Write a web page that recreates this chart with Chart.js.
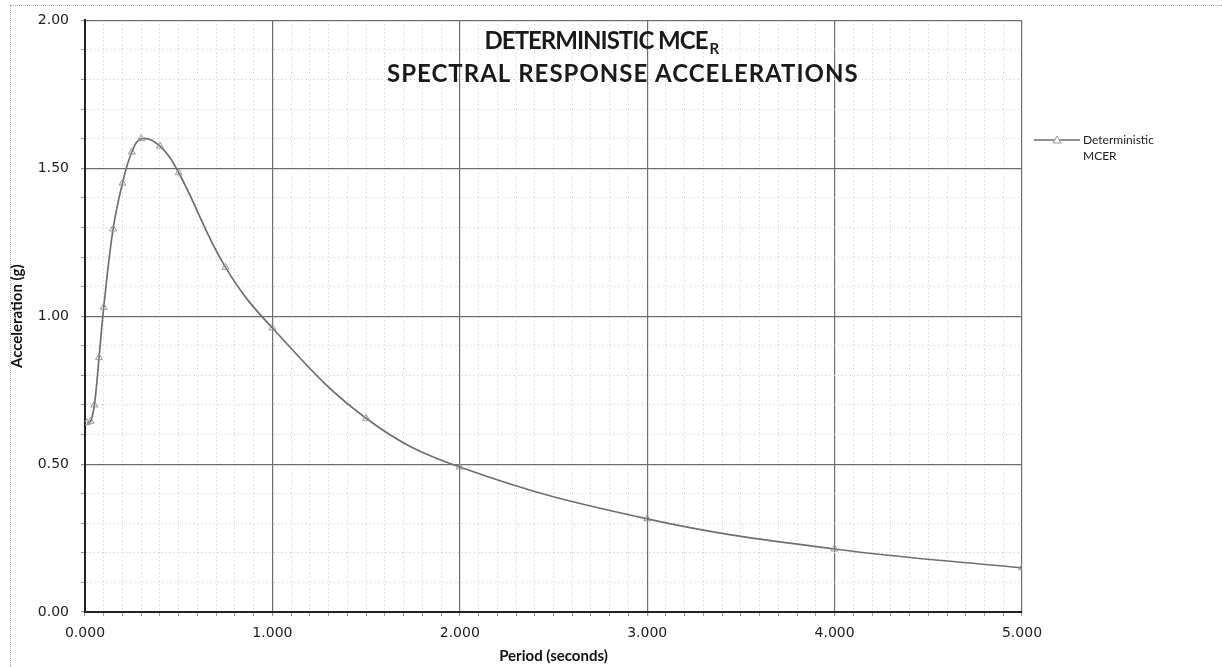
<!DOCTYPE html>
<html lang="en">
<head>
  <meta charset="UTF-8" />
  <title>Deterministic MCER</title>
  <script src="https://cdn.jsdelivr.net/npm/chart.js"></script>
  <style>
    body {
      margin: 0;
      padding: 0;
      background: #fff;
    }
    #wrap {
      position: relative;
      width: 1222px;
      height: 667px;
    }
    #frame {
      position: absolute;
      left: 10px;
      top: 5px;
      right: 0;
      bottom: 0;
      border-left: 1px dotted #aaa;
      border-top: 1px dotted #aaa;
      pointer-events: none;
    }
  </style>
</head>
<body>
  <div id="wrap">
    <canvas id="mcer" width="1222" height="667"></canvas>
    <div id="frame"></div>
  </div>

  <script>
    // periods (s) and spectral accelerations (g)
    const periods = [0.01, 0.03, 0.05, 0.075, 0.1, 0.15, 0.2, 0.25, 0.3, 0.4, 0.5, 0.75, 1.0, 1.5, 2.0, 3.0, 4.0, 5.0];
    const accel   = [0.64, 0.645, 0.70, 0.86, 1.03, 1.295, 1.45, 1.555, 1.60, 1.575, 1.485, 1.165, 0.96, 0.655, 0.49, 0.315, 0.213, 0.149];

    const seriesName = ['Deterministic', 'MCER'];
    const titleLine1 = 'DETERMINISTIC MCE';
    const titleSub = 'R';
    const titleLine2 = 'SPECTRAL RESPONSE ACCELERATIONS';

    const lineColor = '#6f6f6f';
    const markColor = '#959595';
    const titleFont = 'bold 24px Lato, "Open Sans", sans-serif';

    function isMajor(v, step) {
      const q = v / step;
      return Math.abs(q - Math.round(q)) < 1e-6;
    }

    // title drawn over the plot area, like the excel chart
    const titlePlugin = {
      id: 'overTitle',
      afterDraw(chart) {
        const ctx = chart.ctx;
        const x = chart.scales.x;
        ctx.save();
        ctx.fillStyle = '#1a1a1a';
        ctx.textBaseline = 'middle';
        ctx.textAlign = 'left';
        ctx.letterSpacing = '-1px';
        ctx.font = titleFont;
        const w1 = ctx.measureText(titleLine1).width;
        ctx.font = 'bold 15px Lato, "Open Sans", sans-serif';
        const ws = ctx.measureText(titleSub).width;
        const left = x.getPixelForValue(2.75) - (w1 + ws) / 2;
        ctx.font = titleFont;
        ctx.fillText(titleLine1, left, 41);
        ctx.font = 'bold 15px Lato, "Open Sans", sans-serif';
        ctx.fillText(titleSub, left + w1 + 2, 49);
        ctx.letterSpacing = '1px';
        ctx.font = titleFont;
        ctx.textAlign = 'center';
        ctx.fillText(titleLine2, x.getPixelForValue(2.87), 74);
        ctx.restore();
      }
    };

    // legend to the right of the plot
    const legendPlugin = {
      id: 'sideLegend',
      afterDraw(chart) {
        const ctx = chart.ctx;
        const x0 = chart.chartArea.right + 12;
        const y0 = 140;
        ctx.save();
        ctx.strokeStyle = lineColor;
        ctx.lineWidth = 1.5;
        ctx.beginPath();
        ctx.moveTo(x0, y0);
        ctx.lineTo(x0 + 46, y0);
        ctx.stroke();
        ctx.strokeStyle = markColor;
        ctx.fillStyle = '#fff';
        ctx.lineWidth = 1;
        ctx.beginPath();
        ctx.moveTo(x0 + 23, y0 - 4);
        ctx.lineTo(x0 + 27, y0 + 3);
        ctx.lineTo(x0 + 19, y0 + 3);
        ctx.closePath();
        ctx.fill();
        ctx.stroke();
        ctx.fillStyle = '#222';
        ctx.font = '12px Lato, "Open Sans", sans-serif';
        ctx.textAlign = 'left';
        ctx.textBaseline = 'middle';
        ctx.fillText(seriesName[0], x0 + 49, y0);
        ctx.fillText(seriesName[1], x0 + 49, y0 + 16);
        ctx.restore();
      }
    };

    const ctx = document.getElementById('mcer').getContext('2d');
    new Chart(ctx, {
      type: 'line',
      data: {
        datasets: [{
          label: seriesName.join(' '),
          data: periods.map((p, i) => ({ x: p, y: accel[i] })),
          borderColor: lineColor,
          borderWidth: 1.7,
          tension: 0.4,
          pointStyle: 'triangle',
          pointRadius: 4,
          pointBorderWidth: 1,
          pointBorderColor: markColor,
          pointBackgroundColor: 'rgba(255,255,255,0)',
          fill: false
        }]
      },
      options: {
        responsive: false,
        animation: false,
        layout: { padding: { left: 8, top: 20, right: 200, bottom: 2 } },
        plugins: {
          legend: { display: false },
          tooltip: { enabled: false }
        },
        scales: {
          x: {
            type: 'linear',
            min: 0,
            max: 5,
            afterFit(scale) { scale.height = 53; },
            ticks: {
              stepSize: 0.1,
              autoSkip: false,
              maxRotation: 0,
              padding: 9,
              color: '#222',
              font: { family: '"DejaVu Sans", Verdana, sans-serif', size: 14 },
              callback: v => isMajor(v, 1) ? v.toFixed(3) : ''
            },
            grid: {
              color: c => isMajor(c.tick.value, 1) ? '#6e6e6e' : '#c8c8c8',
              lineWidth: c => isMajor(c.tick.value, 1) ? 1.2 : 1,
              tickLength: 4,
              tickColor: '#999'
            },
            border: {
              color: '#222',
              width: 2,
              dash: c => (c.tick && !isMajor(c.tick.value, 1)) ? [1, 3] : []
            },
            title: {
              display: true,
              text: 'Period (seconds)',
              color: '#111',
              padding: { top: 0, bottom: 0 },
              font: { family: 'Lato, "Open Sans", sans-serif', size: 15, weight: 'bold' }
            }
          },
          y: {
            type: 'linear',
            min: 0,
            max: 2,
            afterFit(scale) { scale.width = 77; },
            ticks: {
              stepSize: 0.1,
              autoSkip: false,
              padding: 12,
              color: '#222',
              font: { family: '"DejaVu Sans", Verdana, sans-serif', size: 14 },
              callback: v => isMajor(v, 0.5) ? v.toFixed(2) : ''
            },
            grid: {
              color: c => isMajor(c.tick.value, 0.5) ? '#6e6e6e' : '#c8c8c8',
              lineWidth: c => isMajor(c.tick.value, 0.5) ? 1.2 : 1,
              tickLength: 4,
              tickColor: '#999'
            },
            border: {
              color: '#222',
              width: 2,
              dash: c => (c.tick && !isMajor(c.tick.value, 0.5)) ? [1, 3] : []
            },
            title: {
              display: true,
              text: 'Acceleration (g)',
              color: '#111',
              padding: { top: 0, bottom: 4 },
              font: { family: 'Lato, "Open Sans", sans-serif', size: 15, weight: 'bold' }
            }
          }
        }
      },
      plugins: [titlePlugin, legendPlugin]
    });
  </script>
</body>
</html>
